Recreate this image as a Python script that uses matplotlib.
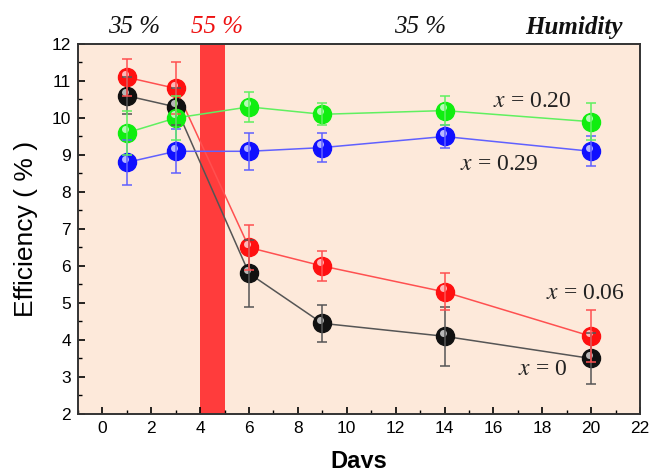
import matplotlib
matplotlib.use("Agg")
import matplotlib.pyplot as plt
from matplotlib.transforms import offset_copy

# --- data ---
days = [1, 3, 6, 9, 14, 20]

eff_x0 = [10.6, 10.3, 5.8, 4.45, 4.1, 3.5]
err_x0 = [0.5, 0.5, 0.9, 0.5, 0.8, 0.7]

eff_x006 = [11.1, 10.8, 6.5, 6.0, 5.3, 4.1]
err_x006 = [0.5, 0.7, 0.6, 0.4, 0.5, 0.7]

eff_x020 = [9.6, 10.0, 10.3, 10.1, 10.2, 9.9]
err_x020 = [0.6, 0.6, 0.4, 0.3, 0.4, 0.5]

eff_x029 = [8.8, 9.1, 9.1, 9.2, 9.5, 9.1]
err_x029 = [0.6, 0.6, 0.5, 0.4, 0.3, 0.4]

humid_days = [1.3, 4.7, 13.0]
humid_labels = ["35 %", "55 %", "35 %"]
humid_colors = ["#111111", "#ee1111", "#111111"]
wet_start, wet_end = 4, 5

plt.rcParams["font.family"] = ["Liberation Sans", "DejaVu Sans"]
plt.rcParams["mathtext.fontset"] = "stix"

fig = plt.figure(figsize=(6.51, 4.68), dpi=100)
ax = fig.add_axes([0.1198, 0.1154, 0.8633, 0.7906])
ax.set_facecolor("#fde9da")

# --- 55 % humidity band ---
ax.axvspan(wet_start, wet_end, color="#ff3c3c", zorder=1, lw=0)

series = [
    (eff_x0, err_x0, "#111111", "#555555"),
    (eff_x006, err_x006, "#ff1010", "#ff5050"),
    (eff_x029, err_x029, "#1010ff", "#6060ff"),
    (eff_x020, err_x020, "#10ee10", "#60f060"),
]

hl = offset_copy(ax.transData, fig=fig, x=-2, y=3.5, units="dots")

for y, e, c, lc in series:
    ax.plot(days, y, color=lc, lw=1.1, zorder=2)
    ax.plot(days, y, "o", ms=13, mfc=c, mec=c, zorder=3)
    ax.plot(days, y, "o", ms=5, mfc="white", mec="none", alpha=0.7,
            transform=hl, zorder=4)
    ax.errorbar(days, y, yerr=e, fmt="none", ecolor=lc, elinewidth=1.1,
                capsize=3.5, capthick=1.1, zorder=5)

# --- labels on the curves ---
serif = ["Liberation Serif", "DejaVu Serif"]
ax.text(17.6, 10.44, "$x$ = 0.20", fontsize=17, family=serif,
        ha="center", va="center", color="#222222")
ax.text(16.25, 8.73, "$x$ = 0.29", fontsize=17, family=serif,
        ha="center", va="center", color="#222222")
ax.text(21.4, 5.27, "$x$ = 0.06", fontsize=17, family=serif,
        ha="right", va="center", color="#222222")
ax.text(19.0, 3.2, "$x$ = 0", fontsize=17, family=serif,
        ha="right", va="center", color="#222222")

# --- humidity text above the plot ---
for d, s, c in zip(humid_days, humid_labels, humid_colors):
    ax.text(d, 12.45, s, fontsize=18, family=serif, style="italic",
            color=c, ha="center", va="center", clip_on=False)
ax.text(19.3, 12.45, "Humidity", fontsize=18, family=serif, style="italic",
        weight="bold", color="#111111", ha="center", va="center", clip_on=False)

# --- axes ---
ax.set_xlim(-1, 22)
ax.set_ylim(2, 12)
ax.set_xticks(range(0, 23, 2))
ax.set_xticks(range(-1, 22), minor=True)
ax.set_yticks(range(2, 13))
ax.set_yticks([v / 2 for v in range(4, 25)], minor=True)
ax.tick_params(which="major", direction="in", length=5, width=1.2,
               labelsize=12.5, top=False, right=False, pad=5)
ax.tick_params(which="minor", direction="in", length=3, width=1.0,
               top=False, right=False)
for sp in ax.spines.values():
    sp.set_linewidth(1.4)
    sp.set_color("#333333")

ax.set_xlabel("Days", fontsize=17, weight="bold", labelpad=10)
ax.set_ylabel("Efficiency ( % )", fontsize=19, labelpad=10)

fig.savefig("out.png", dpi=100)
